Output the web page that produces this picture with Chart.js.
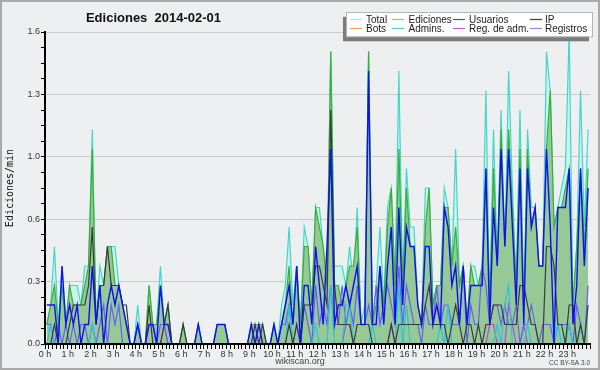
<!DOCTYPE html>
<html><head><meta charset="utf-8">
<script src="https://cdn.jsdelivr.net/npm/chart.js@4/dist/chart.umd.min.js"></script>
<style>html,body{margin:0;padding:0;background:#eeeff1;}canvas{display:block;}</style>
</head><body>
<canvas id="c" width="600" height="370"></canvas>
<script>
const chartTitle = 'Ediciones  2014-02-01';
const yAxisTitle = 'Ediciones/min';
const footerLeft = 'wikiscan.org';
const footerRight = 'CC BY-SA 3.0';
const hourLabels = ['0 h','1 h','2 h','3 h','4 h','5 h','6 h','7 h','8 h','9 h','10 h','11 h',
  '12 h','13 h','14 h','15 h','16 h','17 h','18 h','19 h','20 h','21 h','22 h','23 h'];
const yTickValues = [0,0.08,0.16,0.24,0.32,0.40,0.48,0.56,0.64,0.72,0.80,0.88,0.96,1.04,1.12,1.20,1.28,1.36,1.44,1.52,1.60];
// 10-minute slots (midpoint, minutes after 0 h)
const slotMinutes = Array.from({length:144},(_,i)=>i*10+5);
const tickMinutes = Array.from({length:145},(_,i)=>i*10);

const total = [
 0.1,0.2,0.5,0.1,0.4,0.1, 0.3,0.3,0.3,0.2,0.4,0.4, 1.1,0.1,0.4,0.3,0.5,0.5, 0.5,0.3,0.2,0.1,0,0,
 0.2,0,0,0.3,0.1,0.1, 0.4,0.1,0.2,0,0,0, 0.1,0,0,0,0.1,0, 0,0,0,0.1,0.1,0.1,
 0,0,0,0,0,0, 0.1,0.1,0.1,0.1,0,0, 0.1,0,0.2,0.3,0.6,0.2, 0.4,0.1,0.6,0.5,0.2,0.7,
 0.7,0.5,0.3,1.5,0.4,0.4, 0.4,0.3,0.5,0.3,0.7,0.1, 0.2,1.5,0.1,0.3,0.6,0.2, 0.7,0.8,0.3,1.4,0.3,0.9,
 0.6,0.6,0.2,0.1,0.8,0.8, 0.2,0.3,0.3,0.8,0.7,0.4, 1.0,0.3,0.4,0.1,0.4,0.4, 0.3,0.4,1.3,0.2,1.1,0.4,
 1.2,0.5,1.4,0.8,0.3,1.2, 0.2,1.1,0.7,0.7,0.4,0.4, 1.5,1.3,0.6,0.7,0.8,0.9, 1.6,0.2,0.5,1.3,0.6,1.1];
const ediciones = [
 0.1,0.2,0.3,0.1,0.3,0.1, 0.3,0.2,0.2,0.2,0.3,0.4, 1.0,0.1,0.3,0.3,0.5,0.5, 0.3,0.3,0.2,0.1,0,0,
 0.1,0,0,0.3,0.1,0.1, 0.3,0.1,0.2,0,0,0, 0.1,0,0,0,0.1,0, 0,0,0,0.1,0.1,0.1,
 0,0,0,0,0,0, 0.1,0.1,0.1,0.1,0,0, 0.1,0,0.1,0.2,0.4,0.1, 0.4,0.1,0.5,0.5,0.2,0.7,
 0.6,0.5,0.3,1.5,0.3,0.3, 0.2,0.3,0.4,0.4,0.6,0.1, 0.1,1.5,0.1,0.2,0.4,0.2, 0.6,0.8,0.3,1.0,0.3,0.8,
 0.5,0.5,0.2,0.1,0.6,0.8, 0.2,0.3,0.3,0.7,0.7,0.4, 0.6,0.3,0.4,0.1,0.4,0.3, 0.3,0.4,0.9,0.2,0.9,0.4,
 1.1,0.5,1.1,0.7,0.3,1.0, 0.2,1.0,0.6,0.7,0.4,0.4, 1.0,1.3,0.6,0.7,0.7,0.8, 0.9,0.2,0.5,0.9,0.5,0.9];
const usuarios = [
 0.2,0.2,0.2,0,0.4,0.1, 0.2,0.1,0.2,0,0.1,0.1, 0.4,0.1,0.3,0,0.2,0.3, 0.2,0.3,0.2,0.1,0,0,
 0.1,0,0,0.1,0.1,0, 0.3,0.1,0.1,0,0,0, 0,0,0,0,0.1,0, 0,0,0,0.1,0.1,0.1,
 0,0,0,0,0,0, 0.1,0,0.1,0,0,0, 0.1,0,0.1,0.2,0.3,0.1, 0.4,0,0.3,0.3,0.1,0.5,
 0.3,0.1,0.5,1.0,0.1,0.2, 0.2,0.3,0.2,0.3,0.4,0.1, 0.1,1.4,0.1,0.1,0.4,0.1, 0.4,0.6,0.1,0.7,0.2,0.6,
 0.5,0.5,0.2,0.1,0.5,0.5, 0.1,0.2,0.1,0.7,0.6,0.3, 0.4,0.1,0.4,0.1,0.3,0.3, 0.3,0.3,0.9,0.1,0.7,0.4,
 1.0,0.5,1.0,0.6,0.2,0.9, 0.1,0.9,0.6,0.7,0.4,0.4, 1.0,0.6,0,0.7,0.7,0.7, 0.9,0.1,0.3,0.9,0.4,0.8];
const ip = [
 0,0,0.1,0,0,0, 0.1,0.2,0.2,0.2,0.2,0.3, 0.6,0.1,0.3,0.3,0.5,0.3, 0.3,0.3,0.2,0.2,0,0,
 0,0,0,0.2,0,0, 0,0.1,0.2,0,0,0, 0.1,0,0,0,0,0, 0,0,0,0,0,0,
 0,0,0,0,0,0, 0,0.1,0,0.1,0,0, 0,0,0,0,0.1,0, 0.1,0,0.2,0.2,0.2,0.4,
 0.4,0.3,0.2,1.2,0.3,0.1, 0.1,0.1,0.1,0,0.1,0.1, 0.1,0.1,0,0,0,0, 0,0.1,0,0.1,0.1,0.1,
 0.1,0.1,0.1,0.1,0.2,0.3, 0.1,0.1,0.1,0.1,0,0.1, 0.2,0.1,0,0.1,0.1,0, 0.1,0,0.1,0.1,0.2,0.2,
 0.2,0.1,0.1,0.1,0.1,0.3, 0.3,0.2,0.1,0.1,0,0, 0.5,0.5,0.4,0.1,0.1,0, 0.2,0.2,0,0.1,0,0.2];
const bots = new Array(144).fill(0);
const admins = [
 0,0.1,0,0,0,0, 0,0,0,0,0,0, 0.1,0,0,0,0,0, 0,0,0,0,0,0,
 0,0,0,0,0,0, 0,0,0,0,0,0, 0,0,0,0,0,0, 0,0,0,0,0,0,
 0,0,0,0,0,0, 0,0,0,0,0,0, 0,0,0,0,0.2,0, 0,0,0,0,0,0.1,
 0,0,0,0.3,0,0, 0,0.2,0.2,0,0,0, 0,0,0.1,0,0,0, 0,0,0,0.3,0,0.2,
 0,0,0,0,0,0, 0,0,0.1,0,0.2,0, 0,0,0,0,0,0, 0,0,0,0,0,0.1,
 0,0.2,0.3,0,0,0, 0,0.1,0,0,0,0, 0,0,0,0.1,0,0, 0.1,0,0,0.1,0,0];
const regAdm = [
 0,0,0,0,0,0, 0,0,0,0,0,0, 0,0,0,0,0,0, 0,0,0,0,0,0,
 0,0,0,0,0,0, 0,0.1,0,0,0,0, 0,0,0,0,0,0, 0,0,0,0,0,0,
 0,0,0,0,0,0, 0,0,0,0,0,0, 0,0,0,0,0,0, 0,0,0,0,0,0,
 0,0,0,0,0,0, 0,0.1,0.1,0,0,0, 0,0,0,0,0,0, 0,0.1,0,0,0,0,
 0,0,0,0,0,0, 0,0,0,0,0,0, 0,0,0,0,0,0, 0,0,0,0.1,0.1,0,
 0,0,0.2,0.1,0,0, 0.1,0,0,0,0,0, 0,0,0,0,0,0, 0,0,0,0,0,0];
const registros = [
 0.1,0.1,0,0.1,0,0.1, 0,0.1,0,0.1,0.1,0, 0.1,0,0.1,0.2,0,0.2, 0.1,0.2,0,0,0,0,
 0.1,0,0,0.1,0.1,0, 0.1,0.1,0,0,0,0, 0,0,0,0,0,0, 0,0,0,0,0,0,
 0,0,0,0,0,0, 0,0,0,0,0,0, 0,0,0.1,0.1,0.2,0, 0.1,0,0.2,0.1,0,0.3,
 0.1,0.2,0.1,0.3,0.1,0.1, 0.3,0.1,0.2,0.1,0.3,0.1, 0.1,0.2,0.1,0.3,0.1,0.2, 0.3,0.2,0.1,0.4,0.1,0.3,
 0.2,0.1,0.1,0,0.2,0.1, 0.1,0.3,0.1,0.2,0.2,0.1, 0.1,0.1,0.4,0,0.2,0.1, 0.1,0.4,0.3,0.1,0.2,0.2,
 0.1,0.2,0.1,0.1,0.2,0, 0.1,0.1,0.2,0.1,0,0.1, 0.1,0.1,0,0.1,0.1,0.1, 0.1,0,0.2,0.1,0,0.3];

const legendNames = [['Total','Ediciones','Usuarios','IP'],['Bots','Admins.','Reg. de adm.','Registros']];
const legendColors = [['#a8e6de','#86d286','#4646ee','#404040'],['#f0a040','#40d0d0','#d050f0','#8a8af0']];

const pts = arr => arr.map((v,i)=>({x:slotMinutes[i], y:v}));
const line = (label, arr, color, order, extra) => Object.assign({
  label, data: pts(arr), borderColor: color, borderWidth: 1.2, pointRadius: 0,
  tension: 0, fill: false, order }, extra || {});

const deco = {
  id: 'deco',
  beforeDraw(chart) {
    const c = chart.ctx; c.save(); c.fillStyle = '#eeeff1'; c.fillRect(0,0,600,370); c.restore();
  },
  afterDatasetsDraw(chart) {
    const c = chart.ctx, a = chart.chartArea;
    c.save(); c.strokeStyle = '#000'; c.lineWidth = 2;
    c.beginPath(); c.moveTo(a.left - 1, a.bottom); c.lineTo(a.right, a.bottom); c.stroke();
    c.restore();
  },
  afterDraw(chart) {
    const c = chart.ctx;
    c.save();
    // title
    c.fillStyle = '#111'; c.font = 'bold 13px "Liberation Sans"'; c.textAlign = 'center'; c.textBaseline = 'alphabetic';
    c.fillText(chartTitle, 153.5, 22);
    // y title
    c.save(); c.translate(13, 188); c.rotate(-Math.PI/2);
    c.font = '10px "DejaVu Sans Mono"'; c.textAlign = 'center'; c.fillStyle = '#111';
    c.fillText(yAxisTitle, 0, 0); c.restore();
    // footer
    c.fillStyle = '#444'; c.font = '9px "Liberation Sans"'; c.textAlign = 'center';
    c.fillText(footerLeft, 300, 363.5);
    c.font = '6.5px "Liberation Sans"'; c.textAlign = 'right';
    c.fillText(footerRight, 590, 365);
    // legend
    c.fillStyle = '#7c7c7c'; c.fillRect(343, 16.8, 246, 24.5);
    c.fillStyle = '#ffffff'; c.fillRect(346.5, 12.3, 246, 24.5);
    c.strokeStyle = '#b4b4b4'; c.lineWidth = 1; c.strokeRect(346.5, 12.5, 246, 24.3);
    const cols = [[350,366],[392,408.5],[453,469],[530,545]];
    const rows = [[19.5,23.3],[28.5,32.3]];
    c.font = '10px "Liberation Sans"'; c.textAlign = 'left';
    for (let r = 0; r < 2; r++) for (let k = 0; k < 4; k++) {
      c.strokeStyle = legendColors[r][k]; c.lineWidth = 1.2;
      c.beginPath(); c.moveTo(cols[k][0], rows[r][0]); c.lineTo(cols[k][0] + 12, rows[r][0]); c.stroke();
      c.fillStyle = '#1a1a1a'; c.fillText(legendNames[r][k], cols[k][1], rows[r][1]);
    }
    // frame
    c.strokeStyle = '#a9a9a9'; c.lineWidth = 2; c.strokeRect(1, 1, 598, 368);
    c.restore();
  }
};

new Chart(document.getElementById('c'), {
  type: 'line',
  data: { datasets: [
    line('Total', total, '#45d6ca', 9, {fill: 'origin', backgroundColor: '#cdf1ec'}),
    line('Ediciones', ediciones, '#35b035', 8, {fill: 'origin', backgroundColor: '#97c997'}),
    line('Bots', bots, '#f0a040', 7),
    line('Reg. de adm.', regAdm, '#c040e0', 6),
    line('Registros', registros, '#6262f2', 5),
    line('Admins.', admins, '#28c4e0', 4),
    line('IP', ip, '#3a3a3a', 3),
    line('Usuarios', usuarios, '#1010ee', 2, {borderWidth: 1.4})
  ]},
  options: {
    responsive: false, animation: false, devicePixelRatio: 1,
    layout: { padding: { top: 32, right: 10, left: 0, bottom: 0 } },
    plugins: { legend: { display: false }, tooltip: { enabled: false }, title: { display: false } },
    scales: {
      x: {
        type: 'linear', min: 0, max: 1440,
        afterBuildTicks: s => { s.ticks = tickMinutes.map(v => ({value: v})); },
        afterFit: s => { s.height = 26; },
        ticks: { autoSkip: false, maxRotation: 0, minRotation: 0, padding: 0, color: '#333',
          font: { family: 'Liberation Sans', size: 9 },
          callback: v => (v % 60 === 0 && v < 1440) ? hourLabels[v / 60] : '' },
        grid: { drawOnChartArea: false, color: '#000', tickLength: 5, lineWidth: 1 },
        border: { color: '#000', width: 2 }
      },
      y: {
        min: 0, max: 1.6,
        afterBuildTicks: s => { s.ticks = yTickValues.map(v => ({value: v})); },
        afterFit: s => { s.width = 45; },
        ticks: { autoSkip: false, padding: 1, color: '#333',
          font: { family: 'Liberation Sans', size: 9 },
          callback: (v, i) => (i % 4 === 0) ? v.toFixed(1) : '' },
        grid: { color: ctx => (ctx.index % 4 === 0 && ctx.index > 0) ? '#cacaca' : 'rgba(0,0,0,0)',
          tickColor: '#000', tickLength: 4, lineWidth: 1 },
        border: { color: '#000', width: 2 }
      }
    }
  },
  plugins: [deco]
});
</script>
</body></html>
